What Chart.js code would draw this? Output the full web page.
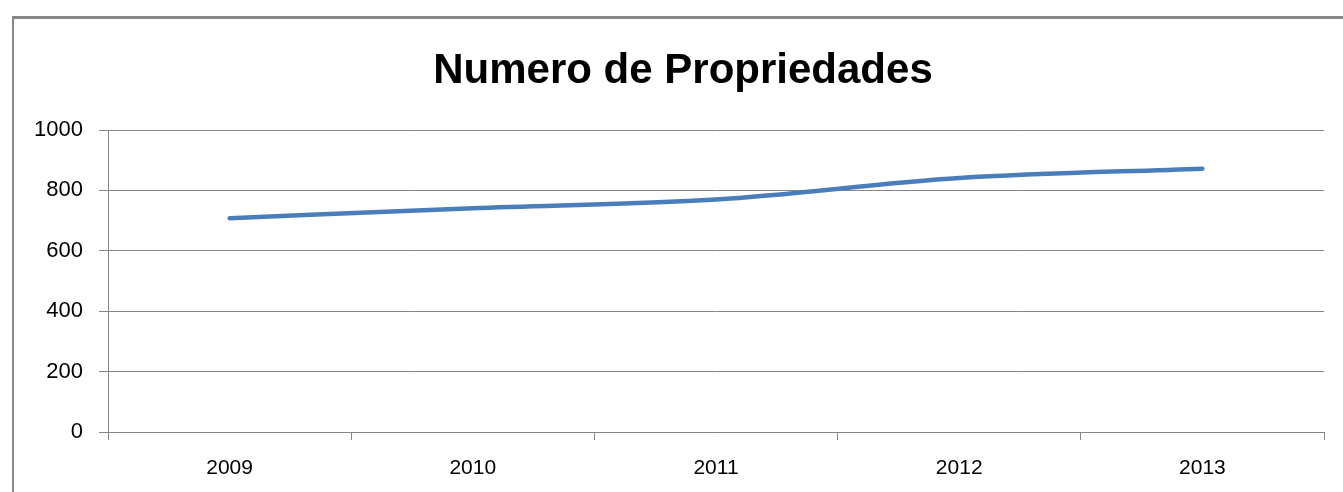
<!DOCTYPE html>
<html>
<head>
<meta charset="utf-8">
<script src="https://cdn.jsdelivr.net/npm/chart.js@4"></script>
<style>
  html, body { margin: 0; padding: 0; background: #fff; }
  #wrap { position: relative; width: 1343px; height: 492px; overflow: hidden; }
  #frame {
    position: absolute; left: 12px; top: 16px; width: 1400px; height: 600px;
    border: 2px solid #888; border-top-width: 3px; box-sizing: border-box;
  }
  #chart { position: absolute; left: 0; top: 0; }
</style>
</head>
<body>
<div id="wrap">
  <div id="frame"></div>
  <canvas id="chart" width="1343" height="492"></canvas>
</div>
<script>
const titleText = "Numero de Propriedades";
const years = ["2009", "2010", "2011", "2012", "2013"];
const propriedades = [708, 741, 770, 841, 872];
const yTicks = [0, 200, 400, 600, 800, 1000];

const gridColor = "#868686";

// title is centred on the whole frame, not the plot, so draw it ourselves
const frameTitle = {
  id: "frameTitle",
  afterDraw(chart) {
    const ctx = chart.ctx;
    ctx.save();
    ctx.font = "bold 42px 'Liberation Sans'";
    ctx.fillStyle = "#000";
    ctx.textAlign = "center";
    ctx.textBaseline = "alphabetic";
    ctx.fillText(titleText, 683, 83);
    ctx.restore();
  }
};

new Chart(document.getElementById("chart"), {
  type: "line",
  data: {
    labels: years,
    datasets: [{
      label: "Propriedades",
      data: propriedades,
      borderColor: "#4a7ebb",
      borderWidth: 4.5,
      borderCapStyle: "round",
      borderJoinStyle: "round",
      pointRadius: 0,
      cubicInterpolationMode: "monotone",
      fill: false
    }]
  },
  plugins: [frameTitle],
  options: {
    responsive: false,
    animation: false,
    layout: { padding: { left: 0, right: 19, top: 130, bottom: 0 } },
    plugins: {
      legend: { display: false },
      tooltip: { enabled: false },
      title: { display: false }
    },
    scales: {
      x: {
        offset: true,
        afterFit: (scale) => { scale.height = 60; },
        grid: { display: true, offset: true, drawOnChartArea: false, drawTicks: true, tickLength: 8, color: gridColor },
        border: { display: true, color: gridColor, width: 1 },
        ticks: { color: "#000", padding: 16, font: { family: "Liberation Sans", size: 21 } }
      },
      y: {
        min: 0,
        max: 1000,
        afterBuildTicks: (scale) => { scale.ticks = yTicks.map(v => ({ value: v })); },
        afterFit: (scale) => { scale.width = 108; },
        grid: { color: gridColor, tickLength: 9, drawTicks: true },
        border: { display: true, color: gridColor, width: 1 },
        ticks: {
          color: "#000",
          padding: 16,
          font: { family: "Liberation Sans", size: 22 },
          callback: (v) => String(v)
        }
      }
    }
  }
});
</script>
</body>
</html>
